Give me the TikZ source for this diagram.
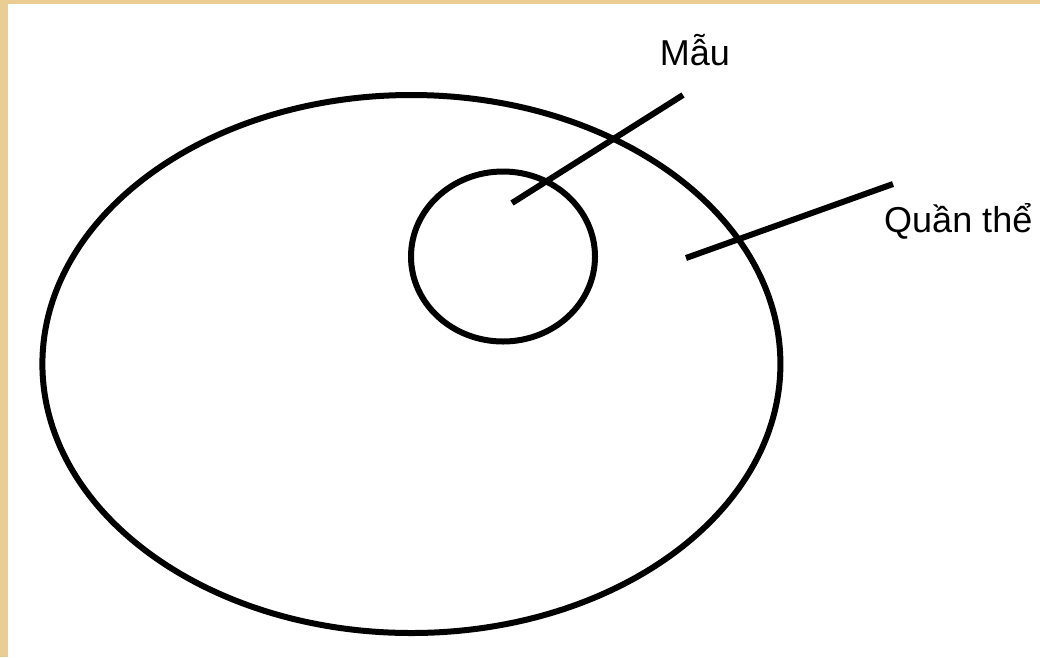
\documentclass[tikz,border=0pt]{standalone}
\usepackage{fontspec}
\setmainfont{Liberation Sans}
\usetikzlibrary{shapes.geometric}
\definecolor{wood}{HTML}{E9CD92}
\tikzset{
  ring/.style={draw=black, line width=6pt, ellipse, inner sep=0pt},
  pointer/.style={draw=black, line width=6pt},
  lbl/.style={inner sep=0pt, font=\fontsize{36}{43}\selectfont}
}
\begin{document}
\begin{tikzpicture}[x=1pt,y=-1pt]
\useasboundingbox (0,0) rectangle (1040,657);
\fill[wood] (0,0) rectangle (1040,657);
\fill[white] (8,4) rectangle (1040,657);
\node[ring, minimum width=738pt, minimum height=538pt] (pop) at (411.4,364) {};
\node[ring, minimum width=184pt, minimum height=170pt] (sample) at (503,256.5) {};
\node[lbl, anchor=base] (mau) at (695,65) {Mẫu};
\node[lbl, anchor=base west] (qt) at (884,232) {Quần thể};
\coordinate (m1) at (512,203);
\coordinate (m2) at (683,95);
\coordinate (q1) at (686,258);
\coordinate (q2) at (893,184);
\draw[pointer] (m1) -- (m2);
\draw[pointer] (q1) -- (q2);
\end{tikzpicture}
\end{document}
